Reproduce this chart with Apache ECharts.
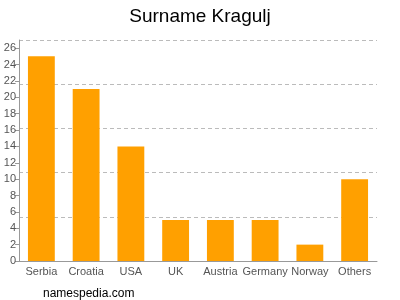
<!DOCTYPE html>
<html><head><meta charset="utf-8">
<script src="https://cdn.jsdelivr.net/npm/echarts@6/dist/echarts.min.js"></script>
<style>html,body{margin:0;padding:0;background:#fff}#c{width:400px;height:300px}</style>
</head><body><div id="c"></div>
<script>
const categories = ["Serbia","Croatia","USA","UK","Austria","Germany","Norway","Others"];
const values = [25,21,14,5,5,5,2,10];
const titleText = "Surname Kragulj";
const footerText = "namespedia.com";

const chart = echarts.init(document.getElementById('c'), null, {renderer:'canvas'});
chart.setOption({
  animation:false,
  title:[{text:titleText,left:'center',top:2,textStyle:{fontFamily:'Liberation Sans, Arial, sans-serif',fontSize:19,fontWeight:'normal',color:'#000'}},
         {text:footerText,left:38,top:283,textStyle:{fontFamily:'Liberation Sans, Arial, sans-serif',fontSize:12,fontWeight:'normal',color:'#000'}}],
  grid:{left:19,right:23,top:40,bottom:39,containLabel:false},
  xAxis:{type:'category',data:categories,
    axisLine:{lineStyle:{color:'#999'}},
    axisTick:{alignWithLabel:true,length:4,lineStyle:{color:'#999'}},
    axisLabel:{color:'#555',fontSize:11,fontFamily:'Liberation Sans, Arial, sans-serif',margin:5,interval:0}},
  yAxis:[{type:'value',min:0,max:27,interval:2,
    axisLine:{show:true,lineStyle:{color:'#999'}},
    axisTick:{show:true,length:4,lineStyle:{color:'#999'}},
    axisLabel:{color:'#555',fontSize:11,fontFamily:'Liberation Sans, Arial, sans-serif',margin:3,showMaxLabel:false},
    splitLine:{show:false}},
   {type:'value',min:0,max:27,interval:5.4,position:'left',
    axisLine:{show:false},axisTick:{show:false},axisLabel:{show:false},
    splitLine:{show:true,lineStyle:{color:'#bbb',type:[4,3],width:1}}}],
  series:[{type:'bar',data:values,barWidth:'60%',yAxisIndex:0,
    itemStyle:{color:'#ffa000'}}]
});
</script></body></html>
